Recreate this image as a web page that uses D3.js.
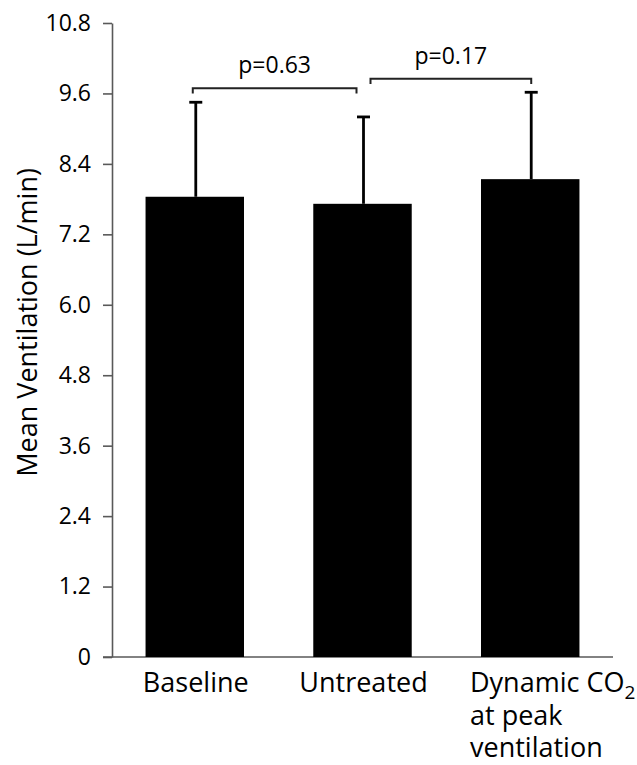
<!DOCTYPE html>
<html>
<head>
<script src="https://d3js.org/d3.v7.min.js"></script>
<style>
    body { margin: 0; background: #fff; }
    text { font-family: "Open Sans", sans-serif; fill: #000; }
    .axis path, .axis line { stroke: #595959; stroke-width: 1.6px; }
</style>
</head>
<body>
<svg width="637" height="765"></svg>
<script>
// data
var categories = ["Baseline", "Untreated", "Dynamic CO2 at peak ventilation"];
var means = [7.84, 7.72, 8.14];
var errTops = [9.45, 9.20, 9.62];
var yTicks = [0, 1.2, 2.4, 3.6, 4.8, 6.0, 7.2, 8.4, 9.6, 10.8];
var tickLabels = ["0", "1.2", "2.4", "3.6", "4.8", "6.0", "7.2", "8.4", "9.6", "10.8"];
var brackets = [
    {from: 0, to: 1, level: 9.69, drop: 0.09, label: "p=0.63", dx0: -3, dx1: -7},
    {from: 1, to: 2, level: 9.85, drop: 0.09, label: "p=0.17", dx0: 7, dx1: 0}
];

var svg = d3.select("svg"),
    margin = {top: 23, right: 24, bottom: 108, left: 112},
    width = 637 - margin.left - margin.right,
    height = 765 - margin.top - margin.bottom,
    g = svg.append("g").attr("transform", "translate(" + margin.left + "," + margin.top + ")");

var x = d3.scaleBand().domain(categories).range([0, width]).paddingInner(0.413).paddingOuter(0.2);
var y = d3.scaleLinear().domain([0, 10.8]).range([height, 0]);

// axes
var yAxis = g.append("g")
    .attr("class", "axis")
    .call(d3.axisLeft(y).tickValues(yTicks).tickSize(9).tickSizeOuter(0)
        .tickFormat(function (d, i) { return tickLabels[i]; }));
yAxis.selectAll("text").attr("x", -21).attr("font-size", 23).style("font-size", "23px");

var xAxis = g.append("g")
    .attr("class", "axis")
    .attr("transform", "translate(0," + height + ")")
    .call(d3.axisBottom(x).tickSize(0).tickSizeOuter(0).tickFormat(""));
xAxis.select("path").attr("d", "M-9,0H" + width);

// bars
g.selectAll(".bar")
    .data(categories)
    .enter().append("rect")
    .attr("class", "bar")
    .attr("x", function (d) { return x(d); })
    .attr("width", x.bandwidth())
    .attr("y", function (d, i) { return y(means[i]); })
    .attr("height", function (d, i) { return height - y(means[i]); })
    .attr("fill", "#000");

// error bars (upper only)
var cx = function (d) { return x(d) + x.bandwidth() / 2 + 1; };
g.selectAll(".err")
    .data(categories)
    .enter().append("line")
    .attr("x1", cx).attr("x2", cx)
    .attr("y1", function (d, i) { return y(means[i]); })
    .attr("y2", function (d, i) { return y(errTops[i]); })
    .attr("stroke", "#000").attr("stroke-width", 2.8);
g.selectAll(".cap")
    .data(categories)
    .enter().append("line")
    .attr("x1", function (d) { return cx(d) - 6.5; })
    .attr("x2", function (d) { return cx(d) + 6.5; })
    .attr("y1", function (d, i) { return y(errTops[i]); })
    .attr("y2", function (d, i) { return y(errTops[i]); })
    .attr("stroke", "#000").attr("stroke-width", 2.8);

// significance brackets
brackets.forEach(function (b) {
    var x0 = cx(categories[b.from]) + b.dx0,
        x1 = cx(categories[b.to]) + b.dx1,
        yl = y(b.level), yd = y(b.level - b.drop);
    g.append("path")
        .attr("d", "M" + x0 + "," + yd + "V" + yl + "H" + x1 + "V" + yd)
        .attr("fill", "none").attr("stroke", "#222").attr("stroke-width", 2);
    g.append("text")
        .attr("x", (x0 + x1) / 2)
        .attr("y", yl - 15)
        .attr("text-anchor", "middle")
        .style("font-size", "23px")
        .text(b.label);
});

// category labels
var fs = "27px";
g.append("text").attr("x", cx(categories[0])).attr("y", height + 35)
    .attr("text-anchor", "middle").style("font-size", fs).text("Baseline");
g.append("text").attr("x", cx(categories[1])).attr("y", height + 35)
    .attr("text-anchor", "middle").style("font-size", fs).text("Untreated");
var lx = x(categories[2]) - 11;
var dyn = g.append("text").attr("x", lx).attr("y", height + 35)
    .style("font-size", fs);
dyn.append("tspan").text("Dynamic CO");
dyn.append("tspan").attr("dy", 7).style("font-size", "19px").text("2");
dyn.append("tspan").attr("x", lx).attr("dy", 26).text("at peak");
dyn.append("tspan").attr("x", lx).attr("dy", 32).text("ventilation");

// y title
svg.append("text")
    .attr("transform", "translate(37," + (margin.top + y(5.7)) + ") rotate(-90)")
    .attr("text-anchor", "middle")
    .style("font-size", "27px")
    .text("Mean Ventilation (L/min)");
</script>
</body>
</html>
